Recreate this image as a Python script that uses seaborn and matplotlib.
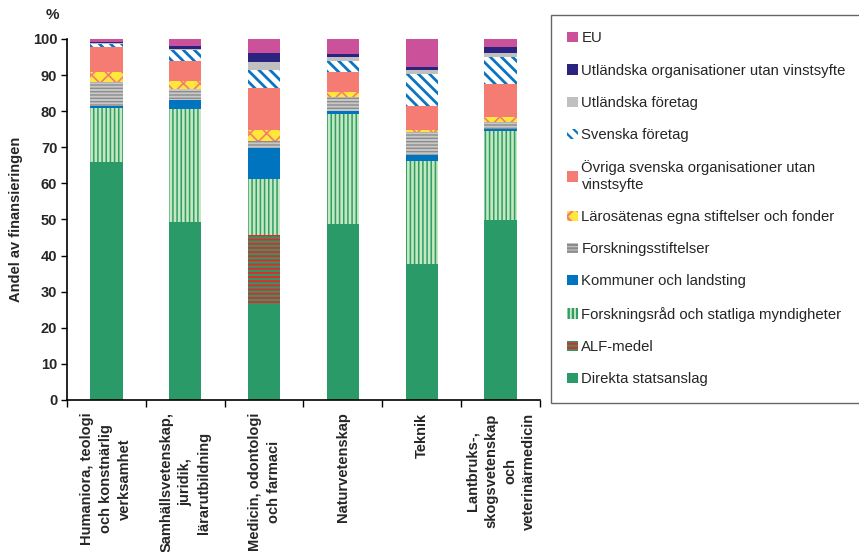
import numpy as np
import matplotlib
matplotlib.use("Agg")
import matplotlib.pyplot as plt
import seaborn as sns
from matplotlib.patches import Patch

# Data (percent of funding)
categories = [
    "Humaniora, teologi\noch konstnärlig\nverksamhet",
    "Samhällsvetenskap,\njuridik,\nlärarutbildning",
    "Medicin, odontologi\noch farmaci",
    "Naturvetenskap",
    "Teknik",
    "Lantbruks-,\nskogsvetenskap\noch\nveterinärmedicin",
]
direkta = [66.0, 49.3, 27.0, 48.8, 37.8, 49.9]
alf = [0.0, 0.0, 18.7, 0.0, 0.0, 0.0]
forskningsrad = [15.0, 31.3, 15.4, 30.4, 28.5, 24.6]
kommuner = [0.5, 2.5, 8.8, 0.9, 1.6, 0.6]
forskningsstiftelser = [6.7, 3.0, 1.7, 3.8, 6.3, 1.9]
larosaten = [2.6, 2.3, 3.1, 1.4, 0.6, 1.3]
ovriga = [6.9, 5.5, 11.7, 5.6, 6.6, 9.2]
svenska_foretag = [0.9, 3.0, 5.0, 3.0, 8.9, 7.5]
utl_foretag = [0.2, 0.3, 2.2, 1.1, 1.2, 1.1]
utl_org = [0.3, 0.8, 2.5, 0.8, 0.7, 1.7]
eu = [1.0, 1.9, 3.9, 4.2, 7.8, 2.2]

series_names = [
    "Direkta statsanslag",
    "ALF-medel",
    "Forskningsråd och statliga myndigheter",
    "Kommuner och landsting",
    "Forskningsstiftelser",
    "Lärosätenas egna stiftelser och fonder",
    "Övriga svenska organisationer utan\nvinstsyfte",
    "Svenska företag",
    "Utländska företag",
    "Utländska organisationer utan vinstsyfte",
    "EU",
]
series_values = [direkta, alf, forskningsrad, kommuner, forskningsstiftelser,
                 larosaten, ovriga, svenska_foretag, utl_foretag, utl_org, eu]

# face colour, hatch, hatch colour, hatch linewidth
styles = [
    ("#2A9A68", None, "#2A9A68", 1.0),
    ("#2A9A68", "----", "#E8262A", 1.4),
    ("#C5E8BE", "||||", "#2E9E6A", 1.1),
    ("#0074BF", None, "#0074BF", 1.0),
    ("#C8C8C8", "-----", "#8C8C8C", 1.0),
    ("#FFE83A", "xx", "#F47C72", 1.2),
    ("#F47C72", None, "#F47C72", 1.0),
    ("#FFFFFF", "\\\\\\", "#0A74C2", 2.0),
    ("#C0C0C0", None, "#C0C0C0", 1.0),
    ("#2A2480", None, "#2A2480", 1.0),
    ("#CB529A", None, "#CB529A", 1.0),
]

sns.set_theme(style="ticks")
plt.rcParams["font.family"] = ["Liberation Sans", "DejaVu Sans"]

fig = plt.figure(figsize=(8.59, 5.52), dpi=100)
ax = fig.add_axes([0.078, 0.2754, 0.5506, 0.654])

bottom = np.zeros(len(categories))
for name, values, (face, hatch, hcol, hlw) in zip(series_names, series_values, styles):
    with plt.rc_context({"hatch.linewidth": hlw}):
        sns.barplot(x=categories, y=values, bottom=bottom, color=face, saturation=1,
                    hatch=hatch, edgecolor=hcol, linewidth=0, width=0.41,
                    errorbar=None, ax=ax)
        for p in ax.patches[-len(categories):]:
            if hasattr(p, "set_hatch_linewidth"):
                p.set_hatch_linewidth(hlw)
    bottom = bottom + np.array(values)

ax.set_xlim(-0.5, 5.5)
ax.set_ylim(0, 100)
ax.set_yticks(range(0, 101, 10))
ax.set_yticklabels([str(v) for v in range(0, 101, 10)], fontsize=10.5, fontweight="bold")
ax.set_xticks(range(len(categories)))
ax.set_xticklabels(categories, rotation=90, fontsize=10.5, fontweight="bold",
                   linespacing=1.45, multialignment="center", va="top", ha="center")
ax.set_xticks(np.arange(-0.5, len(categories), 1), minor=True)
ax.tick_params(axis="x", which="major", length=0, pad=9)
ax.tick_params(axis="x", which="minor", length=5, width=1, direction="out", color="black")
ax.tick_params(axis="y", length=4, width=1, direction="out", color="black", pad=3)
sns.despine(ax=ax)
for s in ("left", "bottom"):
    ax.spines[s].set_color("black")
    ax.spines[s].set_linewidth(1.2)
ax.set_xlabel("")
ax.set_ylabel("Andel av finansieringen", fontsize=10.5, fontweight="bold")
ax.yaxis.set_label_coords(-0.094, 0.5)
fig.text(52 / 859, 1 - 15 / 552, "%", fontsize=11, fontweight="bold", ha="center", va="center")

handles = []
for name, (face, hatch, hcol, hlw) in zip(series_names, styles):
    handles.append(Patch(facecolor=face, hatch=hatch, edgecolor=hcol, linewidth=0, label=name))
with plt.rc_context({"hatch.linewidth": 1.6}):
    leg = fig.legend(handles=handles[::-1], loc="upper left",
                     bbox_to_anchor=(551 / 859, 1 - 15 / 552), borderaxespad=0,
                     fontsize=10.7, frameon=True, fancybox=False, labelspacing=1.23,
                     handlelength=0.7, handleheight=0.7, handletextpad=0.25,
                     borderpad=1.1)
leg.get_frame().set_edgecolor("#404040")
leg.get_frame().set_linewidth(1.0)

fig.savefig("out.png", dpi=100)
